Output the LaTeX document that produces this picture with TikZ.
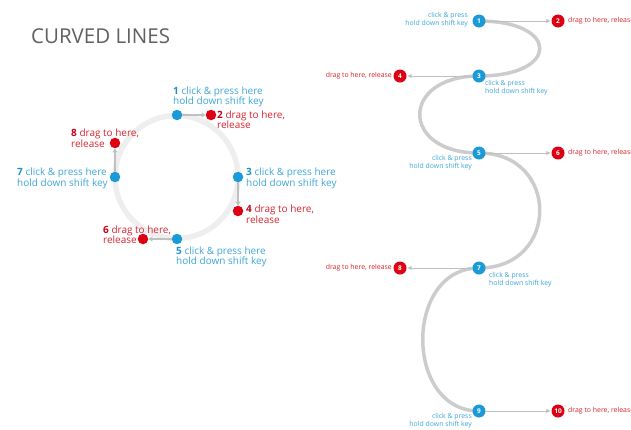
\documentclass[tikz,border=0pt]{standalone}
\usepackage{fontspec}
\setmainfont{Open Sans}
\usetikzlibrary{arrows.meta,backgrounds}
\definecolor{dotblue}{RGB}{26,154,214}
\definecolor{dotred}{RGB}{222,0,18}
\definecolor{txtblue}{RGB}{62,166,215}
\definecolor{numblue}{RGB}{26,145,205}
\definecolor{txtred}{RGB}{214,36,46}
\definecolor{numred}{RGB}{200,0,25}
\definecolor{ringgray}{RGB}{238,238,238}
\definecolor{curvegray}{RGB}{204,204,204}
\definecolor{arrowgray}{RGB}{192,192,192}
\definecolor{titlegray}{RGB}{96,96,96}
\begin{document}
\begin{tikzpicture}[x=1pt,y=-1pt,
  ldotb/.style={circle,fill=dotblue,minimum size=10.5pt,inner sep=0},
  ldotr/.style={circle,fill=dotred,minimum size=10.5pt,inner sep=0},
  rdotb/.style={circle,fill=dotblue,minimum size=13pt,inner sep=0,text=white,font=\fontsize{6.5}{7}\selectfont\bfseries},
  rdotr/.style={circle,fill=dotred,minimum size=13pt,inner sep=0,text=white,font=\fontsize{6.5}{7}\selectfont\bfseries},
  llabb/.style={inner sep=0,align=left,text=txtblue,font=\fontsize{10}{10.5}\selectfont},
  llabr/.style={inner sep=0,align=left,text=txtred,font=\fontsize{10}{10.5}\selectfont},
  rlabb/.style={inner sep=0,text=txtblue,font=\fontsize{6.9}{8}\selectfont},
  rlabr/.style={inner sep=0,text=txtred,font=\fontsize{6.9}{8}\selectfont},
  larrow/.style={draw=arrowgray,line width=1.5pt,-{Triangle[length=4pt,width=5pt]}},
  rarrow/.style={draw=arrowgray,line width=0.8pt,-{Triangle[length=4pt,width=4pt]},shorten >=1pt},
  curve/.style={draw=curvegray,line width=3.5pt},
  ring/.style={circle,draw=ringgray,line width=5.5pt,minimum size=123pt,inner sep=0}
]
\useasboundingbox (0,0) rectangle (631,429);

% title
\node[anchor=base west,inner sep=0,text=titlegray,font=\fontsize{20.5}{24}\selectfont] (title) at (31,43.5) {CURVED LINES};

% left circle
\node[ring] (ringc) at (176.5,177) {};
\node[ldotb] (l1) at (177,115) {};
\node[ldotr] (l2) at (211,115) {};
\node[ldotb] (l3) at (238,177) {};
\node[ldotr] (l4) at (238,211) {};
\node[ldotb] (l5) at (177,239) {};
\node[ldotr] (l6) at (143,239) {};
\node[ldotb] (l7) at (115,177) {};
\node[ldotr] (l8) at (115,143) {};
\draw[larrow] (l1) -- (l2);
\draw[larrow] (l3) -- (l4);
\draw[larrow] (l5) -- (l6);
\draw[larrow] (l7) -- (l8);

\node[llabb,anchor=west] (t1) at (173,97) {{\color{numblue}\bfseries 1} click \& press here\\hold down shift key};
\node[llabr,anchor=west] (t2) at (217,119.5) {{\color{numred}\bfseries 2} drag to here,\\release};
\node[llabb,anchor=west] (t3) at (246,178.5) {{\color{numblue}\bfseries 3} click \& press here\\hold down shift key};
\node[llabr,anchor=west] (t4) at (246,214) {{\color{numred}\bfseries 4} drag to here,\\release};
\node[llabb,anchor=west] (t5) at (176,257) {{\color{numblue}\bfseries 5} click \& press here\\hold down shift key};
\node[llabr,anchor=west] (t6) at (103,234.5) {{\color{numred}\bfseries 6} drag to here,\\release};
\node[llabb,anchor=west] (t7) at (17,178.5) {{\color{numblue}\bfseries 7} click \& press here\\hold down shift key};
\node[llabr,anchor=west] (t8) at (71,138) {{\color{numred}\bfseries 8} drag to here,\\release};

% right S-curve
\node[rdotb] (r1) at (479,21) {1};
\node[rdotr] (r2) at (558,21) {2};
\node[rdotb] (r3) at (479,76) {3};
\node[rdotr] (r4) at (400,76) {4};
\node[rdotb] (r5) at (479,153) {5};
\node[rdotr] (r6) at (558,153) {6};
\node[rdotb] (r7) at (479,268) {7};
\node[rdotr] (r8) at (400,268) {8};
\node[rdotb] (r9) at (479,411) {9};
\node[rdotr] (r10) at (558,411) {10};

\begin{scope}[on background layer]
\draw[curve] (r1.center) .. controls +(81,0) and +(81,0) .. (r3.center)
  .. controls +(-79,0) and +(-79,0) .. (r5.center)
  .. controls +(81,0) and +(81,0) .. (r7.center)
  .. controls +(-75,0) and +(-75,0) .. (r9.center);
\end{scope}

\draw[rarrow] (r1) -- (r2);
\draw[rarrow] (r3) -- (r4);
\draw[rarrow] (r5) -- (r6);
\draw[rarrow] (r7) -- (r8);
\draw[rarrow] (r9) -- (r10);

\node[rlabb,align=right,anchor=east] (s1) at (468,19.5) {click \& press\\hold down shift key};
\node[rlabb,align=left,anchor=west] (s3) at (485,87.5) {click \& press\\hold down shift key};
\node[rlabb,align=right,anchor=east] (s5) at (472,163) {click \& press\\hold down shift key};
\node[rlabb,align=left,anchor=west] (s7) at (489,280) {click \& press\\hold down shift key};
\node[rlabb,align=right,anchor=east] (s9) at (472,421) {click \& press\\hold down shift key};

\node[rlabr,anchor=west] (s2) at (568,21) {drag to here, release};
\node[rlabr,anchor=east] (s4) at (392,76) {drag to here, release};
\node[rlabr,anchor=west] (s6) at (568,153) {drag to here, release};
\node[rlabr,anchor=east] (s8) at (392,268) {drag to here, release};
\node[rlabr,anchor=west] (s10) at (568,411) {drag to here, release};
\end{tikzpicture}
\end{document}
